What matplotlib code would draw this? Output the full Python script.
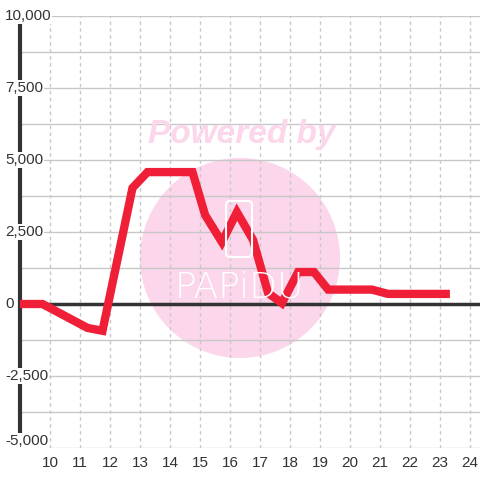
import matplotlib
matplotlib.use("Agg")
import matplotlib.pyplot as plt
import matplotlib.transforms as mtransforms
from matplotlib.patches import Circle, FancyBboxPatch
import numpy as np

plt.rcParams['font.family'] = ['Liberation Sans', 'DejaVu Sans']

# data (hour of day, value)
hours = [9.0, 9.75, 11.25, 11.75, 12.75, 13.25, 14.75, 15.17, 15.73, 16.23, 16.77,
         17.27, 17.73, 18.27, 18.8, 19.27, 20.73, 21.27, 23.33]
values = [0, 0, -830, -930, 4030, 4580, 4580, 3090, 2150, 3190, 2220,
          380, 30, 1110, 1110, 500, 500, 350, 350]
y_ticks = [-5000, -2500, 0, 2500, 5000, 7500, 10000]
x_ticks = list(range(10, 25))

W, H = 480, 480
fig = plt.figure(figsize=(4.8, 4.8), dpi=100)
ax = fig.add_axes([20 / W, 1 - 448 / H, 460 / W, 432 / H])
ax.set_xlim(9, 9 + 460 / 30)
ax.set_ylim(-5000, 10000)

for s in ax.spines.values():
    s.set_visible(False)
ax.tick_params(length=0, labelleft=False, labelbottom=False)

grid_c = '#c8c8c8'
for yv in np.arange(-5000, 10001, 1250):
    ax.axhline(yv, color=grid_c, lw=1, zorder=1)
for xv in x_ticks:
    ax.plot([xv, xv], [-5000, 10000], color=grid_c, lw=1, ls=(0, (2.5, 2.5)), zorder=1)

# watermark (background)
def fig_px(x, y):
    return (x / W, 1 - y / H)

circ = Circle(fig_px(240, 258), 100 / W, transform=fig.transFigure,
              facecolor='#fcd6eb', edgecolor='none', zorder=0.5)
ax.add_patch(circ)
circ.set_clip_on(False)
fig.text(*fig_px(242, 134), 'Powered by', color='#fcd6eb', fontsize=24,
         fontweight='bold', fontstyle='italic', ha='center', va='center', zorder=0.6)
phone = FancyBboxPatch(fig_px(226, 257), 26 / W, 56 / H, boxstyle='round,pad=0,rounding_size=0.008',
                       transform=fig.transFigure, facecolor='none', edgecolor='white', lw=1.5, zorder=0.7)
fig.patches.append(phone)
fig.text(*fig_px(239, 288), 'PAPiDU', color='white', fontsize=26, fontfamily='DejaVu Sans',
         fontweight='light', ha='center', va='center', zorder=0.7)

# left axis line and zero line
ax.plot([9, 9], [-4600, 10000], color='#333333', lw=3, zorder=3, clip_on=False,
        solid_capstyle='butt')
ax.axhline(0, color='#333333', lw=2.5, zorder=3)

ax.plot(hours, values, color='#ee1f36', lw=6, solid_joinstyle='miter',
        solid_capstyle='butt', zorder=4)

tr = mtransforms.blended_transform_factory(fig.transFigure, ax.transData)
for yv in y_ticks:
    t = tr
    if yv == y_ticks[0]:
        t = tr + mtransforms.ScaledTranslation(0, 5 / 72, fig.dpi_scale_trans)
    ax.text(5 / W, yv, f'{yv:,}', transform=t, ha='left', va='center', fontsize=11,
            color='#333333', zorder=5, clip_on=False,
            bbox=dict(facecolor='white', edgecolor='none', pad=0.5))
xtr = ax.transData + mtransforms.ScaledTranslation(0, -6 / 72, fig.dpi_scale_trans)
for xv in x_ticks:
    ax.text(xv, -5000, str(xv), ha='center', va='top', fontsize=11, color='#333333',
            transform=xtr, clip_on=False)

fig.savefig('out.png', dpi=100, facecolor='white')
